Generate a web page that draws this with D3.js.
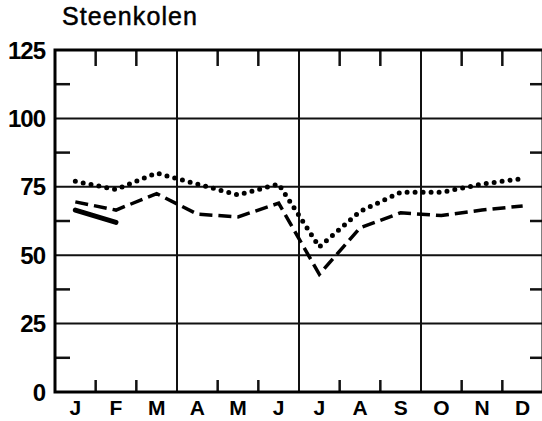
<!DOCTYPE html>
<html>
<head>
<meta charset="utf-8">
<script src="https://cdn.jsdelivr.net/npm/d3@7"></script>
<style>
  body { margin: 0; background: #fff; }
  svg { display: block; }
</style>
</head>
<body>
<div id="chart"></div>
<script>
// Months along the x axis
var months = ["J", "F", "M", "A", "M", "J", "J", "A", "S", "O", "N", "D"];
// Y axis tick labels
var yTicks = [0, 25, 50, 75, 100, 125];
var yMinor = [12.5, 37.5, 62.5, 87.5, 112.5];
// Series
var dottedValues = [77, 74, 80, 76, 72, 76, 53, 66, 73, 73, 76, 78];
var dashedValues = [69.5, 66.5, 72.5, 65, 64, 69, 43, 60, 65.5, 64.5, 66.5, 68];
var solidValues = [66.5, 62];

function drawChart() {
    var width = 542,
        height = 421,
        margin = {top: 50, right: -1, bottom: 29, left: 55};

    var svg = d3.select("#chart").append("svg")
        .attr("width", width)
        .attr("height", height);

    // Scales
    var x = d3.scaleBand()
        .domain(d3.range(months.length))
        .range([margin.left, width - margin.right])
        .padding(0);

    var y = d3.scaleLinear()
        .domain([0, 125])
        .range([height - margin.bottom, margin.top]);

    var x0 = x.range()[0], x1 = x.range()[1];
    var y0 = y(0), y1 = y(125);

    // Title
    svg.append("text")
        .attr("x", 62)
        .attr("y", 25)
        .attr("textLength", 135)
        .attr("lengthAdjust", "spacing")
        .style("font-family", "'Liberation Sans', Arial, sans-serif")
        .style("font-size", "25px")
        .style("stroke", "#000")
        .style("stroke-width", 0.5)
        .text("Steenkolen");

    // Horizontal grid lines
    svg.selectAll(".hgrid")
        .data(yTicks.filter(function(d) { return d > 0 && d < 125; }))
        .enter().append("line")
        .attr("x1", x0).attr("x2", x1)
        .attr("y1", function(d) { return y(d); })
        .attr("y2", function(d) { return y(d); })
        .attr("stroke", "#111")
        .attr("stroke-width", 2);

    // Vertical grid lines at quarter boundaries
    svg.selectAll(".vgrid")
        .data([3, 6, 9])
        .enter().append("line")
        .attr("x1", function(d) { return x(d); })
        .attr("x2", function(d) { return x(d); })
        .attr("y1", y0).attr("y2", y1)
        .attr("stroke", "#111")
        .attr("stroke-width", 2);

    // Month ticks on top and bottom
    var monthTicks = d3.range(1, 12).filter(function(d) { return d % 3 !== 0; });
    svg.selectAll(".ttick")
        .data(monthTicks)
        .enter().append("line")
        .attr("x1", function(d) { return x(d); })
        .attr("x2", function(d) { return x(d); })
        .attr("y1", y1).attr("y2", y1 + 16)
        .attr("stroke", "#111")
        .attr("stroke-width", 2.5);
    svg.selectAll(".btick")
        .data(monthTicks)
        .enter().append("line")
        .attr("x1", function(d) { return x(d); })
        .attr("x2", function(d) { return x(d); })
        .attr("y1", y0).attr("y2", y0 - 12)
        .attr("stroke", "#111")
        .attr("stroke-width", 2.5);

    // Minor ticks left and right
    svg.selectAll(".ltick")
        .data(yMinor)
        .enter().append("line")
        .attr("x1", x0).attr("x2", x0 + 15)
        .attr("y1", function(d) { return y(d); })
        .attr("y2", function(d) { return y(d); })
        .attr("stroke", "#111")
        .attr("stroke-width", 2.5);
    svg.selectAll(".rtick")
        .data(yMinor)
        .enter().append("line")
        .attr("x1", x1).attr("x2", x1 - 13)
        .attr("y1", function(d) { return y(d); })
        .attr("y2", function(d) { return y(d); })
        .attr("stroke", "#111")
        .attr("stroke-width", 2.5);

    // Frame
    svg.append("rect")
        .attr("x", x0).attr("y", y1)
        .attr("width", x1 - x0).attr("height", y0 - y1)
        .attr("fill", "none")
        .attr("stroke", "#000")
        .attr("stroke-width", 3);

    // Y labels
    svg.selectAll(".ylabel")
        .data(yTicks)
        .enter().append("text")
        .attr("x", 45)
        .attr("y", function(d) { return y(d); })
        .attr("dy", "0.36em")
        .attr("text-anchor", "end")
        .style("font-family", "'Liberation Sans', Arial, sans-serif")
        .style("font-weight", "bold")
        .style("font-size", "24px")
        .style("letter-spacing", "-1px")
        .text(function(d) { return d; });

    // Month labels
    svg.selectAll(".mlabel")
        .data(months)
        .enter().append("text")
        .attr("x", function(d, i) { return x(i) + x.bandwidth() / 2; })
        .attr("y", 415)
        .attr("text-anchor", "middle")
        .style("font-family", "'Liberation Sans', Arial, sans-serif")
        .style("font-weight", "bold")
        .style("font-size", "21px")
        .text(function(d) { return d; });

    var line = d3.line()
        .x(function(d, i) { return x(i) + x.bandwidth() / 2; })
        .y(function(d) { return y(d); });

    // Dotted series
    svg.append("path")
        .datum(dottedValues)
        .attr("d", line)
        .attr("fill", "none")
        .attr("stroke", "#000")
        .attr("stroke-width", 5)
        .attr("stroke-linecap", "round")
        .attr("stroke-dasharray", "0 8");

    // Dashed series
    svg.append("path")
        .datum(dashedValues)
        .attr("d", line)
        .attr("fill", "none")
        .attr("stroke", "#000")
        .attr("stroke-width", 3.5)
        .attr("stroke-dasharray", "13 6");

    // Thick solid series (Jan-Feb only)
    svg.append("path")
        .datum(solidValues)
        .attr("d", line)
        .attr("fill", "none")
        .attr("stroke", "#000")
        .attr("stroke-width", 5)
        .attr("stroke-linecap", "round");
}

drawChart();
</script>
</body>
</html>
